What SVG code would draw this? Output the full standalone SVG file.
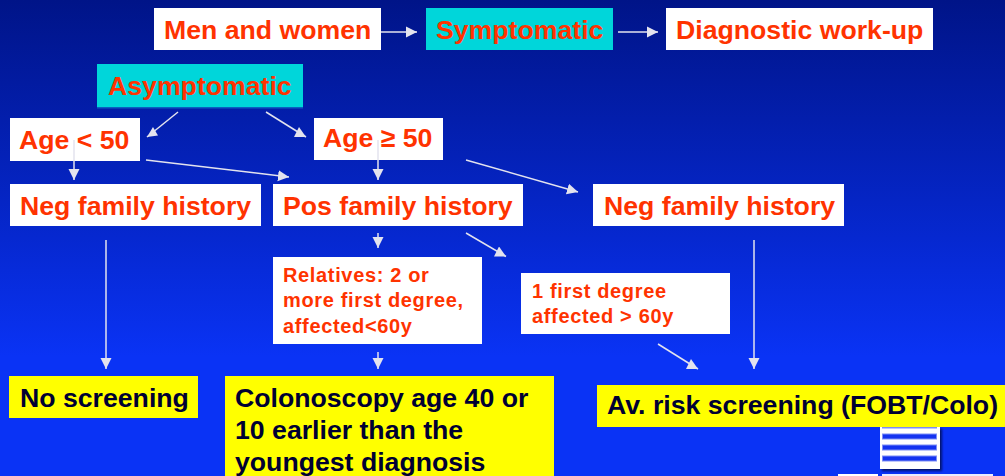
<svg xmlns="http://www.w3.org/2000/svg" width="1005" height="476" viewBox="0 0 1005 476">
<defs>
<linearGradient id="bg" x1="0" y1="0" x2="0" y2="1"><stop offset="0" stop-color="#001488"/><stop offset="0.5" stop-color="#0628d0"/><stop offset="0.75" stop-color="#0a33f5"/><stop offset="1" stop-color="#0a33f5"/></linearGradient>
<marker id="arr" markerUnits="userSpaceOnUse" markerWidth="12" markerHeight="12" refX="11" refY="6" orient="auto"><path d="M0,0.500L11,6L0,11.500Z" fill="#e3e3ee"/></marker>
<marker id="arrR" markerUnits="userSpaceOnUse" markerWidth="13" markerHeight="11" refX="12" refY="10" orient="0"><path d="M0,10L12,10L5,0Z" fill="#e3e3ee"/></marker>
<marker id="arrL" markerUnits="userSpaceOnUse" markerWidth="13" markerHeight="11" refX="0" refY="10" orient="0"><path d="M0,10L11,8.500L6,0Z" fill="#e3e3ee"/></marker>
<filter id="sh" x="-10%" y="-10%" width="125%" height="125%"><feDropShadow dx="2" dy="2" stdDeviation="1.2" flood-color="#001060" flood-opacity="0.9"/></filter>
</defs>
<style>
.w{fill:#fff}.c{fill:#00d6da}.y{fill:#ffff00}
text{font-family:"Liberation Sans",Arial,sans-serif;font-weight:bold}
.r{fill:#ff3300;font-size:26.67px}
.s{fill:#ff3300;font-size:20px;letter-spacing:0.65px}
.k{fill:#000033;font-size:26.67px}
#connectors line{stroke:#e3e3ee;stroke-width:1.5;marker-end:url(#arr)}
#connectors line.dr{marker-end:url(#arrR)}
#connectors line.dl{marker-end:url(#arrL)}
</style>
<rect width="1005" height="476" fill="url(#bg)"/>
<g id="n1"><rect class="w" x="154" y="8" width="227" height="42"/><text class="r" x="164" y="39">Men and women</text></g>
<g id="n2"><rect class="c" x="426" y="8" width="187" height="42"/><text class="r" x="436" y="39">Symptomatic</text></g>
<g id="n3"><rect class="w" x="666" y="8" width="267" height="42"/><text class="r" x="676" y="39">Diagnostic work-up</text></g>
<g id="n4"><rect class="c" x="97" y="64" width="206" height="44"/><rect x="97" y="107" width="206" height="1.5" fill="#0a60c0"/><text class="r" x="108" y="95">Asymptomatic</text></g>
<g id="n5"><rect class="w" x="10" y="118" width="130" height="43"/><text class="r" x="19" y="149">Age &lt; 50</text></g>
<g id="n6"><rect class="w" x="314" y="118" width="129" height="42"/><text class="r" x="323" y="147">Age ≥ 50</text></g>
<g id="n7"><rect class="w" x="10" y="184" width="251" height="42"/><text class="r" x="20" y="215">Neg family history</text></g>
<g id="n8"><rect class="w" x="273" y="184" width="250" height="42"/><text class="r" x="283" y="215">Pos family history</text></g>
<g id="n9"><rect class="w" x="593" y="184" width="251" height="42"/><text class="r" x="604" y="215">Neg family history</text></g>
<g id="n10"><rect class="w" x="273" y="257" width="209" height="87"/><text class="s" x="283" y="282">Relatives: 2 or</text><text class="s" x="283" y="307">more first degree,</text><text class="s" x="283" y="333">affected&lt;60y</text></g>
<g id="n11"><rect class="w" x="521" y="273" width="209" height="61"/><text class="s" x="532" y="298">1 first degree</text><text class="s" x="532" y="323">affected &gt; 60y</text></g>
<g id="icon"><rect x="880" y="427" width="60" height="42" fill="#fff" filter="url(#sh)"/>
<g fill="#1433f0" stroke="#7d8df5" stroke-width="1"><rect x="882.500" y="427" width="54" height="1"/><rect x="882.500" y="434" width="54" height="5"/><rect x="882.500" y="445" width="54" height="5"/><rect x="882.500" y="456" width="54" height="5"/></g>
<rect x="838" y="474" width="40" height="2" fill="#fff"/><rect x="882" y="474" width="111" height="2" fill="#e8ecff"/></g>
<g id="n12"><rect class="y" x="9" y="376" width="189" height="42"/><text class="k" x="20" y="407">No screening</text></g>
<g id="n13"><rect class="y" x="225" y="376" width="329" height="100"/><text class="k" x="235" y="407">Colonoscopy age 40 or</text><text class="k" x="235" y="439">10 earlier than the</text><text class="k" x="235" y="471">youngest diagnosis</text></g>
<g id="n14"><rect class="y" x="597" y="385" width="408" height="42"/><text class="k" x="607" y="414">Av. risk screening (FOBT/Colo)</text></g>
<g id="connectors">
<line x1="381" y1="32" x2="417" y2="32"/>
<line x1="618" y1="32" x2="658" y2="32"/>
<line class="dl" x1="178" y1="112" x2="147" y2="137"/>
<line class="dr" x1="266" y1="112" x2="306" y2="137"/>
<line x1="74" y1="140" x2="74" y2="180"/>
<line x1="378" y1="140" x2="378" y2="180"/>
<line x1="146" y1="160" x2="289" y2="177"/>
<line x1="466" y1="160" x2="578" y2="192"/>
<line x1="378" y1="233" x2="378" y2="248"/>
<line class="dr" x1="466" y1="233" x2="506" y2="256.500"/>
<line x1="378" y1="352" x2="378" y2="369"/>
<line class="dr" x1="658" y1="344" x2="698" y2="369"/>
<line x1="106" y1="240" x2="106" y2="369"/>
<line x1="754" y1="240" x2="754" y2="369"/>
</g>
</svg>
